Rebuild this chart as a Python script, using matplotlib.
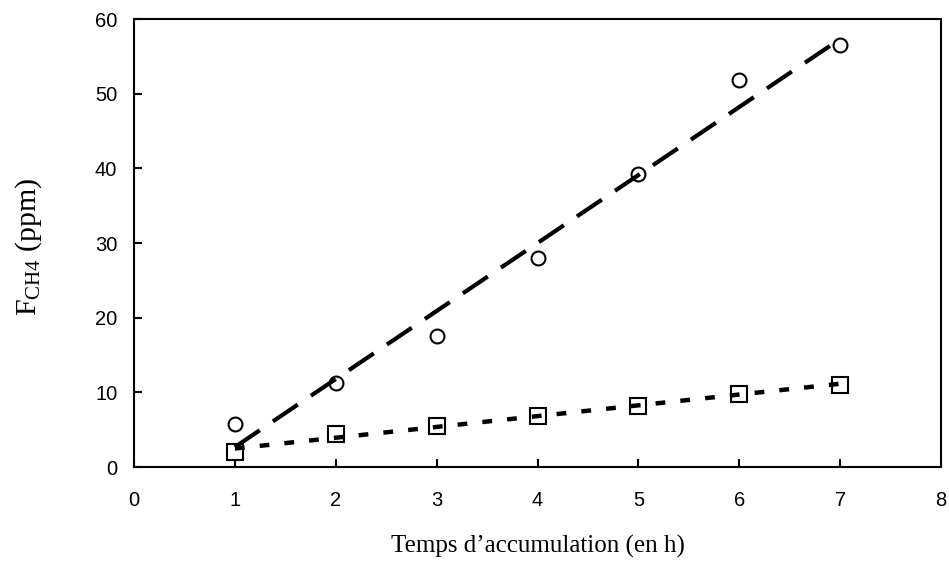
import numpy as np
import matplotlib.pyplot as plt

plt.rcParams['font.family'] = 'Liberation Sans'
plt.rcParams['mathtext.fontset'] = 'custom'
plt.rcParams['mathtext.rm'] = 'Liberation Serif'

# accumulation time (h) and measured CH4 (ppm)
hours = [1, 2, 3, 4, 5, 6, 7]
ch4_circ = [5.8, 11.2, 17.5, 28.0, 39.2, 51.8, 56.5]
ch4_sq = [2.0, 4.4, 5.5, 6.8, 8.2, 9.8, 11.0]

x = np.array(hours, dtype=float)
fit_c = np.polyfit(x, ch4_circ, 1)
fit_s = np.polyfit(x, ch4_sq, 1)
xl = np.linspace(1, 7, 50)

fig = plt.figure(figsize=(9.49, 5.66), dpi=100)
ax = fig.add_axes([0.1412, 0.1749, 0.8504, 0.7915])

ax.plot(xl, np.polyval(fit_c, xl), color='black', lw=3, dashes=(7.2, 3.8), zorder=2)
ax.plot(xl, np.polyval(fit_s, xl), color='black', lw=3.2, dashes=(2.2, 3.4), zorder=2)
ax.plot(hours, ch4_circ, 'o', ms=10, mfc='none', mec='black', mew=1.5, zorder=3)
ax.plot(hours, ch4_sq, 's', ms=11, mfc='none', mec='black', mew=1.5, zorder=3)

ax.set_xlim(0, 8)
ax.set_ylim(0, 60)
ax.set_xticks(range(0, 9))
ax.set_yticks(range(0, 61, 10))
ax.tick_params(direction='in', length=6, width=1.5, labelsize=14.5)
ax.tick_params(axis='x', pad=17)
ax.tick_params(axis='y', pad=12)
for s in ax.spines.values():
    s.set_linewidth(1.5)

ax.set_xlabel('Temps d\u2019accumulation (en h)', family='Liberation Serif',
              fontsize=18, va='center')
ax.set_ylabel(r'$\mathrm{F_{CH4}}$ (ppm)', family='Liberation Serif',
              fontsize=21.5, va='center')
ax.xaxis.set_label_coords(0.5, -0.178)
ax.yaxis.set_label_coords(-0.131, 0.491)

plt.savefig('out.png', dpi=100)
